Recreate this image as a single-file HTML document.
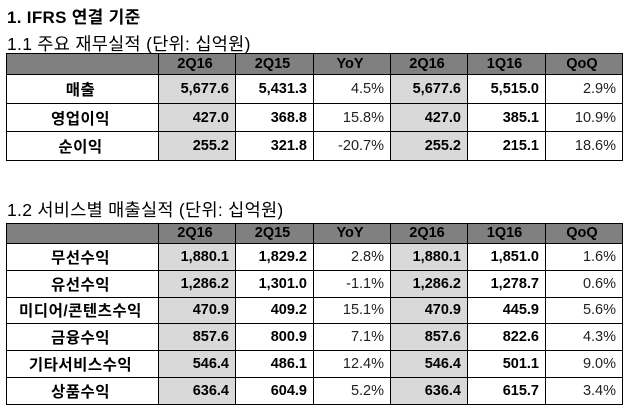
<!DOCTYPE html>
<html><head><meta charset="utf-8"><style>
body{margin:0;width:629px;height:413px;background:#fff;position:relative;overflow:hidden;font-family:"Liberation Sans","Noto Sans CJK KR",sans-serif;color:#000}
.t{position:absolute;white-space:nowrap}
table{position:absolute;left:6px;border-collapse:collapse;table-layout:fixed}
td{border:1.5px solid #000;padding:0 6px 0 2px;font-size:14.5px;text-align:right;overflow:hidden;white-space:nowrap}
tr.h td{background:#808080;text-align:center;font-weight:bold}
td.l{text-align:center;font-weight:bold;font-size:15.5px;letter-spacing:0.5px}
td.b{font-weight:bold}
td.s{background:#d9d9d9}
td.n{font-weight:normal;color:#222}
</style></head><body>
<div class="t" style="left:7px;top:3px;font-size:17px;font-weight:bold;letter-spacing:0.3px">1. IFRS 연결 기준</div>
<div class="t" style="left:7px;top:31px;font-size:17.5px;letter-spacing:0.3px">1.1 주요 재무실적 (단위: 십억원)</div>
<table style="top:53px;height:108px">
<colgroup><col style="width:152px"><col style="width:77px"><col style="width:78px"><col style="width:77px"><col style="width:77px"><col style="width:78px"><col style="width:77px"></colgroup>
<tr class="h"><td></td><td>2Q16</td><td>2Q15</td><td>YoY</td><td>2Q16</td><td>1Q16</td><td>QoQ</td></tr>
<tr><td class="l">매출</td><td class="b s">5,677.6</td><td class="b">5,431.3</td><td class="n">4.5%</td><td class="b s">5,677.6</td><td class="b">5,515.0</td><td class="n">2.9%</td></tr>
<tr><td class="l">영업이익</td><td class="b s">427.0</td><td class="b">368.8</td><td class="n">15.8%</td><td class="b s">427.0</td><td class="b">385.1</td><td class="n">10.9%</td></tr>
<tr><td class="l">순이익</td><td class="b s">255.2</td><td class="b">321.8</td><td class="n">-20.7%</td><td class="b s">255.2</td><td class="b">215.1</td><td class="n">18.6%</td></tr>
</table>
<div class="t" style="left:7px;top:197px;font-size:17.5px;letter-spacing:0.3px">1.2 서비스별 매출실적 (단위: 십억원)</div>
<table style="top:223px;height:182px">
<colgroup><col style="width:152px"><col style="width:77px"><col style="width:78px"><col style="width:77px"><col style="width:77px"><col style="width:78px"><col style="width:77px"></colgroup>
<tr class="h"><td></td><td>2Q16</td><td>2Q15</td><td>YoY</td><td>2Q16</td><td>1Q16</td><td>QoQ</td></tr>
<tr><td class="l">무선수익</td><td class="b s">1,880.1</td><td class="b">1,829.2</td><td class="n">2.8%</td><td class="b s">1,880.1</td><td class="b">1,851.0</td><td class="n">1.6%</td></tr>
<tr><td class="l">유선수익</td><td class="b s">1,286.2</td><td class="b">1,301.0</td><td class="n">-1.1%</td><td class="b s">1,286.2</td><td class="b">1,278.7</td><td class="n">0.6%</td></tr>
<tr><td class="l">미디어/콘텐츠수익</td><td class="b s">470.9</td><td class="b">409.2</td><td class="n">15.1%</td><td class="b s">470.9</td><td class="b">445.9</td><td class="n">5.6%</td></tr>
<tr><td class="l">금융수익</td><td class="b s">857.6</td><td class="b">800.9</td><td class="n">7.1%</td><td class="b s">857.6</td><td class="b">822.6</td><td class="n">4.3%</td></tr>
<tr><td class="l">기타서비스수익</td><td class="b s">546.4</td><td class="b">486.1</td><td class="n">12.4%</td><td class="b s">546.4</td><td class="b">501.1</td><td class="n">9.0%</td></tr>
<tr><td class="l">상품수익</td><td class="b s">636.4</td><td class="b">604.9</td><td class="n">5.2%</td><td class="b s">636.4</td><td class="b">615.7</td><td class="n">3.4%</td></tr>
</table>
</body></html>
